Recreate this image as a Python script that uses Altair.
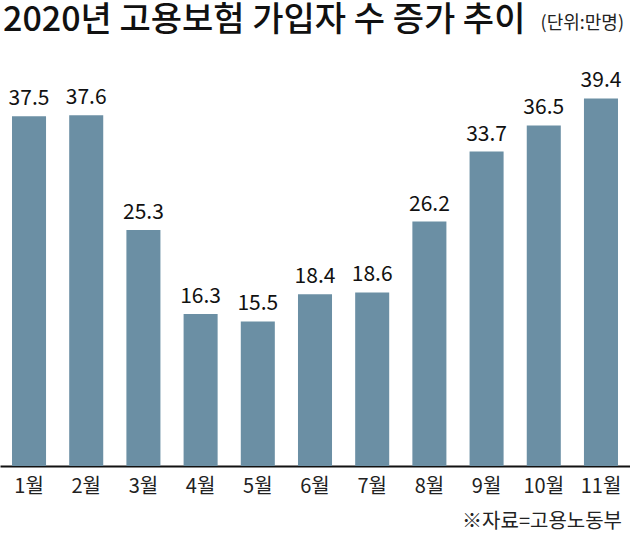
import altair as alt
import pandas as pd

months = ["1월", "2월", "3월", "4월", "5월", "6월", "7월", "8월", "9월", "10월", "11월"]
values = [37.5, 37.6, 25.3, 16.3, 15.5, 18.4, 18.6, 26.2, 33.7, 36.5, 39.4]

title_text = "2020년 고용보험 가입자 수 증가 추이"
unit_text = "(단위:만명)"
source_text = "※자료=고용노동부"

df = pd.DataFrame({"month": months, "value": values})
df["label"] = [f"{v:.1f}" for v in values]

FONT = "Noto Sans CJK KR"
BAR = "#6b8fa4"

PX_PER_UNIT = 9.33
TOP = 50
H = 416

x = alt.X("month:N", sort=months,
          scale=alt.Scale(paddingInner=0.405, paddingOuter=0.21),
          axis=alt.Axis(title=None, labelAngle=0, ticks=False, grid=False,
                        domain=True, domainColor="#111111", domainWidth=2,
                        labelFont=FONT, labelFontSize=20, labelColor="#222222",
                        labelPadding=10))
y = alt.Y("value:Q", scale=alt.Scale(domain=[0, H / PX_PER_UNIT], nice=False),
          axis=None)

base = alt.Chart(df)
bars = base.mark_bar(color=BAR).encode(x=x, y=y)
labels = base.mark_text(font=FONT, fontSize=21, color="#111111", dy=-7,
                        baseline="bottom").encode(x=x, y=y, text="label:N")

title = alt.Chart(pd.DataFrame({"t": [title_text]})).mark_text(
    font=FONT, fontSize=34, fontWeight=500, align="left", baseline="alphabetic",
    color="#111111").encode(x=alt.value(3), y=alt.value(31 - TOP), text="t:N")
unit = alt.Chart(pd.DataFrame({"t": [unit_text]})).mark_text(
    font=FONT, fontSize=18, align="right", baseline="alphabetic",
    color="#222222").encode(x=alt.value(624), y=alt.value(29 - TOP), text="t:N")
source = alt.Chart(pd.DataFrame({"t": [source_text]})).mark_text(
    font=FONT, fontSize=20, align="right", baseline="alphabetic",
    color="#222222").encode(x=alt.value(622), y=alt.value(528 - TOP), text="t:N")

chart = alt.layer(bars, labels, title, unit, source).properties(
    width=630, height=H,
    autosize=alt.AutoSizeParams(type="none"),
    padding={"left": 0, "top": TOP, "right": 0, "bottom": 534 - TOP - H},
    background="white",
).configure_view(stroke=None)

chart.save("out.html", embed_options={"renderer": "svg", "actions": False})
